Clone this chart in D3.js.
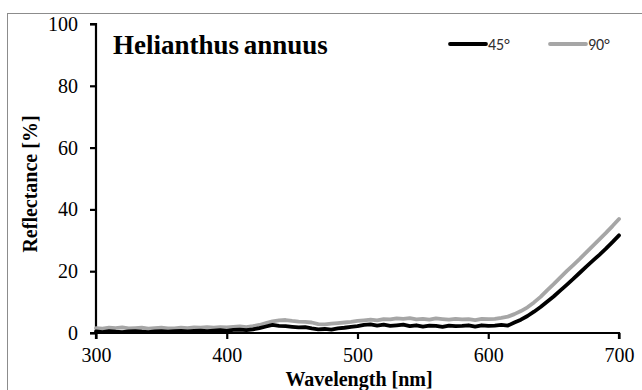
<!DOCTYPE html>
<html>
<head>
<meta charset="utf-8">
<script src="https://cdn.jsdelivr.net/npm/d3@7"></script>
<style>
  html, body { margin: 0; padding: 0; background: #fff; }
  svg { display: block; }
</style>
</head>
<body>
<svg id="chart" width="642" height="390"></svg>
<script>
// Reflectance spectra of Helianthus annuus at two viewing angles
const wavelengths = d3.range(300, 701, 5);

const refl45 = [
  0.5, 0.3, 0.6, 0.4, 0.3, 0.5, 0.6, 0.4, 0.3, 0.5,
  0.6, 0.4, 0.6, 0.7, 0.5, 0.7, 0.8, 0.6, 0.8, 0.9,
  0.7, 1.0, 1.1, 0.9, 1.2, 1.6, 2.1, 2.6, 2.3, 2.2,
  2.0, 1.8, 1.9, 1.5, 1.2, 1.3, 1.1, 1.5, 1.7, 2.0,
  2.2, 2.6, 2.8, 2.4, 2.7, 2.3, 2.5, 2.7, 2.2, 2.5,
  2.1, 2.4, 2.3, 2.0, 2.4, 2.2, 2.3, 2.5, 2.1, 2.5,
  2.3, 2.4, 2.6, 2.4, 3.4, 4.3, 5.5, 6.9, 8.4, 10.1,
  11.8, 13.7, 15.6, 17.5, 19.5, 21.5, 23.4, 25.3, 27.3, 29.4,
  31.6
];

const refl90 = [
  1.6, 1.4, 1.7, 1.6, 1.8, 1.5, 1.6, 1.7, 1.4, 1.6,
  1.7, 1.5, 1.5, 1.7, 1.6, 1.8, 1.7, 1.9, 1.7, 1.9,
  1.8, 2.0, 2.1, 1.9, 2.2, 2.6, 3.2, 3.8, 4.1, 4.2,
  3.9, 3.7, 3.6, 3.4, 2.9, 2.8, 3.0, 3.2, 3.4, 3.6,
  3.9, 4.1, 4.3, 4.1, 4.5, 4.4, 4.7, 4.6, 4.8, 4.4,
  4.6, 4.3, 4.7, 4.5, 4.3, 4.6, 4.4, 4.5, 4.2, 4.6,
  4.5, 4.6, 4.9, 5.3, 6.1, 7.1, 8.3, 9.9, 11.7, 13.8,
  15.8, 17.9, 20.0, 22.0, 24.0, 26.1, 28.2, 30.3, 32.4, 34.6,
  36.9
];

const xTicks = [300, 400, 500, 600, 700];
const yTicks = [0, 20, 40, 60, 80, 100];

const seriesNames = ["45°", "90°"];
const seriesColors = ["#000000", "#a6a6a6"];

const svg = d3.select("#chart");
const W = 642, H = 390;
const m = { left: 96, right: 23, top: 24, bottom: 57 };

// outer frame
svg.append("rect")
  .attr("x", 7.5).attr("y", 13.5)
  .attr("width", W).attr("height", H)
  .attr("fill", "none").attr("stroke", "#8c8c8c").attr("stroke-width", 1);

const x = d3.scaleLinear().domain([300, 700]).range([m.left, W - m.right]);
const y = d3.scaleLinear().domain([0, 100]).range([H - m.bottom, m.top]);

const serif = "'Liberation Serif', 'Times New Roman', serif";

const xAxis = svg.append("g")
  .attr("transform", `translate(0,${y(0)})`)
  .call(d3.axisBottom(x).tickValues(xTicks).tickSize(6).tickPadding(9).tickFormat(d3.format("d")));
const yAxis = svg.append("g")
  .attr("transform", `translate(${x(300)},0)`)
  .call(d3.axisLeft(y).tickValues(yTicks).tickSize(6).tickPadding(12).tickFormat(d3.format("d")));

[xAxis, yAxis].forEach(g => {
  g.attr("font-family", null).attr("font-size", null);
  g.select(".domain").attr("stroke", "#000").attr("stroke-width", 2.2);
  g.selectAll(".tick line").attr("stroke", "#000").attr("stroke-width", 2.2);
  g.selectAll(".tick text").attr("fill", "#000")
    .style("font-family", serif).style("font-size", "20px");
});
xAxis.select(".domain").attr("d", `M${x(300)},6V0H${x(700)}V6`);
yAxis.select(".domain").attr("d", `M-6,${y(100)}H0V${y(0)}H-6`);

// spectra
const line = d3.line().x((d, i) => x(wavelengths[i])).y(d => y(d));
const allSeries = [refl45, refl90];
[1, 0].forEach(k => {
  svg.append("path")
    .datum(allSeries[k])
    .attr("d", line)
    .attr("fill", "none")
    .attr("stroke", seriesColors[k])
    .attr("stroke-width", 3.8)
    .attr("stroke-linejoin", "round")
    .attr("stroke-linecap", "round");
});

// title
svg.append("text")
  .attr("x", 113).attr("y", 54)
  .style("font-family", serif).style("font-weight", "bold").style("font-size", "27px")
  .style("word-spacing", "-2px")
  .text("Helianthus annuus");

// legend
const legX = [450, 550];
seriesNames.forEach((name, k) => {
  svg.append("line")
    .attr("x1", legX[k]).attr("x2", legX[k] + 36)
    .attr("y1", 44).attr("y2", 44)
    .attr("stroke", seriesColors[k]).attr("stroke-width", 3.8)
    .attr("stroke-linecap", "round");
  svg.append("text")
    .attr("x", legX[k] + 38).attr("y", 50)
    .style("font-family", "Carlito, 'Open Sans', sans-serif").style("font-size", "16px")
    .attr("fill", "#303030")
    .text(name);
});

// axis titles
svg.append("text")
  .attr("x", 359).attr("y", 385.5)
  .attr("text-anchor", "middle")
  .style("font-family", serif).style("font-weight", "bold").style("font-size", "20px")
  .text("Wavelength [nm]");

svg.append("text")
  .attr("transform", `translate(37,184) rotate(-90)`)
  .attr("text-anchor", "middle")
  .style("font-family", serif).style("font-weight", "bold").style("font-size", "20px")
  .text("Reflectance [%]");
</script>
</body>
</html>
